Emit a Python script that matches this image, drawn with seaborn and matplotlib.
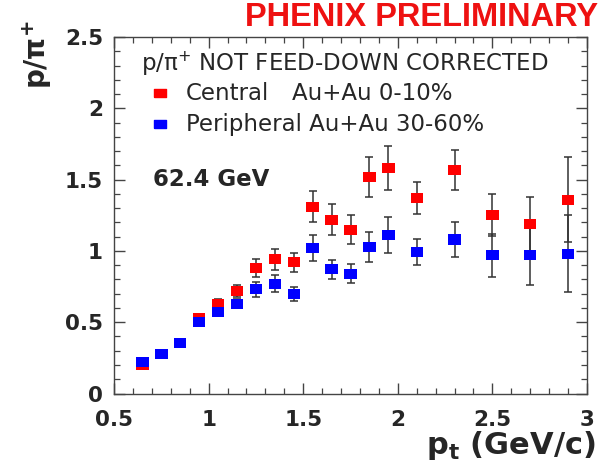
import numpy as np
import pandas as pd
import matplotlib
matplotlib.use("Agg")
import matplotlib.pyplot as plt
import seaborn as sns
from matplotlib.ticker import MultipleLocator

pt = [0.65, 0.75, 0.85, 0.95, 1.05, 1.15, 1.25, 1.35, 1.45, 1.55,
      1.65, 1.75, 1.85, 1.95, 2.1, 2.3, 2.5, 2.7, 2.9]
central = [0.20, 0.28, 0.355, 0.53, 0.63, 0.72, 0.88, 0.94, 0.92, 1.31,
           1.22, 1.15, 1.52, 1.58, 1.37, 1.57, 1.25, 1.19, 1.36]
central_err = [0.015, 0.015, 0.015, 0.02, 0.03, 0.04, 0.06, 0.075, 0.065, 0.11,
               0.11, 0.10, 0.14, 0.155, 0.11, 0.14, 0.147, 0.19, 0.30]
peripheral = [0.22, 0.28, 0.355, 0.50, 0.57, 0.63, 0.73, 0.77, 0.70, 1.02,
              0.87, 0.84, 1.03, 1.11, 0.99, 1.08, 0.97, 0.97, 0.98]
peripheral_err = [0.01, 0.01, 0.01, 0.02, 0.03, 0.03, 0.05, 0.06, 0.05, 0.09,
                  0.065, 0.065, 0.105, 0.125, 0.09, 0.12, 0.15, 0.21, 0.27]

series_names = ["Central", "Peripheral"]
colors = {"Central": "#ff0000", "Peripheral": "#0000ff"}
xtick_vals = [0.5, 1, 1.5, 2, 2.5, 3]
xtick_labels = ["0.5", "1", "1.5", "2", "2.5", "3"]
ytick_vals = [0, 0.5, 1, 1.5, 2, 2.5]
ytick_labels = ["0", "0.5", "1", "1.5", "2", "2.5"]

df = pd.concat([
    pd.DataFrame({"pt": pt, "ratio": central, "err": central_err, "set": "Central"}),
    pd.DataFrame({"pt": pt, "ratio": peripheral, "err": peripheral_err, "set": "Peripheral"}),
])

sns.set_theme(style="ticks")
plt.rcParams["font.family"] = ["DejaVu Sans"]
plt.rcParams["mathtext.fontset"] = "dejavusans"

W, H = 610, 476
fig = plt.figure(figsize=(W / 100, H / 100), dpi=100)
ax = fig.add_axes([114 / W, 1 - 393.5 / H, (587 - 114) / W, (393.5 - 37) / H])

# wide rectangular marker (reference squares look slightly stretched)
rect = [(-0.62, -0.5), (0.62, -0.5), (0.62, 0.5), (-0.62, 0.5), (-0.62, -0.5)]

for name in series_names:
    sub = df[df["set"] == name]
    ax.errorbar(sub["pt"], sub["ratio"], yerr=sub["err"], fmt="none",
                ecolor="#333333", elinewidth=1.1, capsize=3, capthick=1.1, zorder=2)

sns.scatterplot(data=df, x="pt", y="ratio", hue="set", palette=colors,
                marker=rect, s=80, linewidth=0, legend=False, ax=ax, zorder=3)

ax.set_xlim(0.5, 3.0)
ax.set_ylim(0, 2.5)
ax.set_xticks(xtick_vals)
ax.set_xticklabels(xtick_labels)
ax.set_yticks(ytick_vals)
ax.set_yticklabels(ytick_labels)
ax.xaxis.set_minor_locator(MultipleLocator(0.1))
ax.yaxis.set_minor_locator(MultipleLocator(0.1))
ax.tick_params(which="both", direction="in", top=True, right=True, color="#444444")
ax.tick_params(which="major", length=8, width=1, labelsize=15.5)
ax.tick_params(axis="x", which="major", pad=12)
ax.tick_params(axis="y", which="major", pad=8)
ax.tick_params(which="minor", length=4, width=0.9)
for lab in ax.get_xticklabels() + ax.get_yticklabels():
    lab.set_fontweight("bold")
for sp in ax.spines.values():
    sp.set_color("#444444")
    sp.set_linewidth(1)
ax.set_xlabel("")
ax.set_ylabel("")

def fx(x):
    return x / W

def fy(y):
    return 1 - y / H

fig.text(fx(598), fy(17), "PHENIX PRELIMINARY", color="#ee1111", fontsize=23.5,
         fontweight="bold", family=["Liberation Sans", "DejaVu Sans"],
         ha="right", va="center")
fig.text(fx(596), fy(445), r"p$_{\mathbf{t}}$ (GeV/c)", fontsize=22,
         fontweight="bold", ha="right", va="center")
fig.text(fx(37), fy(55), r"p/π$^{\mathbf{+}}$", fontsize=20, fontweight="bold",
         rotation=90, ha="center", va="center")

fig.text(fx(141), fy(64), r"p/π$^{+}$ NOT FEED-DOWN CORRECTED", fontsize=16.5,
         ha="left", va="center")
fig.text(fx(186), fy(93), "Central", fontsize=16.5, ha="left", va="center")
fig.text(fx(292), fy(93), "Au+Au 0-10%", fontsize=16.5, ha="left", va="center")
fig.text(fx(186), fy(124), "Peripheral Au+Au 30-60%", fontsize=16.5,
         ha="left", va="center")
for name, yy in zip(series_names, [93, 124]):
    fig.add_artist(plt.Line2D([fx(160)], [fy(yy)], marker=rect, markersize=8,
                              color=colors[name], linestyle="none",
                              transform=fig.transFigure))

fig.text(fx(153), fy(180), "62.4 GeV", fontsize=16.5, fontweight="bold",
         ha="left", va="center")

fig.savefig("out.png", dpi=100)
